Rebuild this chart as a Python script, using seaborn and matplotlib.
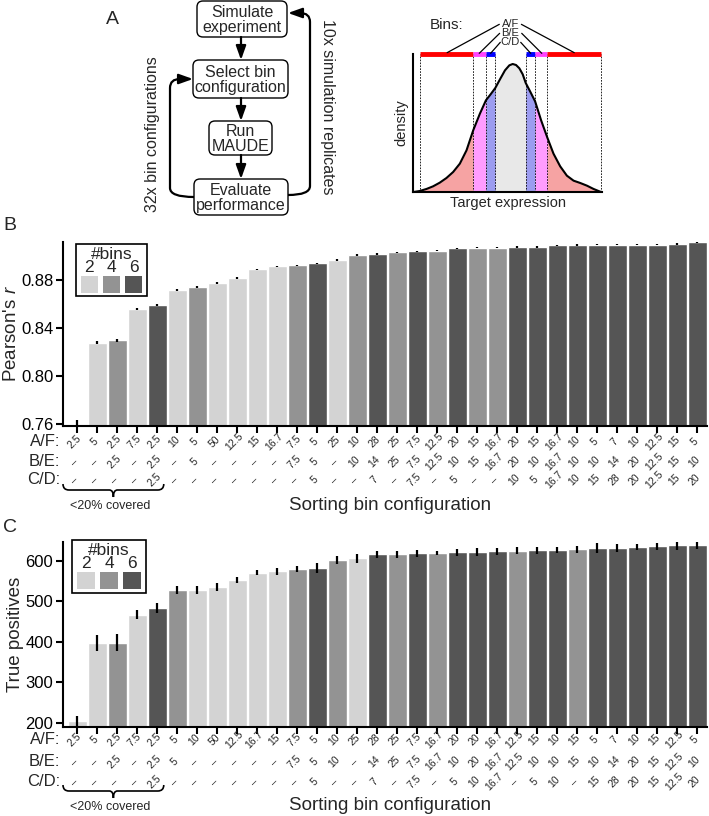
import numpy as np
import pandas as pd
import matplotlib.pyplot as plt
import matplotlib.transforms as mtransforms
from matplotlib.patches import FancyBboxPatch, Rectangle, PathPatch
from matplotlib.path import Path
import seaborn as sns

# Estilo general
sns.set_theme(style="ticks")
plt.rcParams["font.family"] = ["Liberation Sans", "DejaVu Sans"]
plt.rcParams.update({
    "mathtext.fontset": "custom",
    "mathtext.rm": "Liberation Sans",
    "mathtext.it": "Liberation Sans:italic",
    "axes.linewidth": 1.5,
    "axes.edgecolor": "black",
    "xtick.major.width": 1.5, "ytick.major.width": 1.5,
    "xtick.major.size": 5, "ytick.major.size": 5,
    "xtick.color": "black", "ytick.color": "black",
})

# Datos panel B (Pearson's r)
af_b = ["2.5", "5", "2.5", "7.5", "2.5", "10", "5", "50", "12.5", "15", "16.7", "7.5", "5", "25", "10", "28",
        "25", "7.5", "12.5", "20", "15", "16.7", "20", "15", "16.7", "10", "5", "7", "10", "12.5", "15", "5"]
be_b = ["-", "-", "2.5", "-", "2.5", "-", "5", "-", "-", "-", "-", "7.5", "5", "-", "10", "14",
        "25", "7.5", "12.5", "10", "15", "16.7", "20", "10", "16.7", "10", "10", "14", "20", "12.5", "15", "10"]
cd_b = ["-", "-", "-", "-", "2.5", "-", "-", "-", "-", "-", "-", "-", "5", "-", "-", "7",
        "-", "7.5", "-", "5", "-", "-", "10", "5", "16.7", "10", "15", "28", "20", "12.5", "15", "20"]
pearson_mean = [0.7603, 0.8279, 0.8300, 0.8559, 0.8592, 0.8717, 0.8744, 0.8781, 0.8822, 0.8891, 0.8916,
                0.8925, 0.8941, 0.8969, 0.9010, 0.9022, 0.9033, 0.9041, 0.9049, 0.9066, 0.9072, 0.9074,
                0.9077, 0.9080, 0.9091, 0.9094, 0.9097, 0.9099, 0.9099, 0.9099, 0.9102, 0.9116]
pearson_err = [0.0035, 0.0012, 0.0010, 0.0008, 0.0008, 0.0007, 0.0008, 0.0008, 0.0008, 0.0005, 0.0006,
               0.0006, 0.0006, 0.0007, 0.0007, 0.0009, 0.0007, 0.0007, 0.0007, 0.0007, 0.0006, 0.0006,
               0.0008, 0.0006, 0.0006, 0.0006, 0.0006, 0.0006, 0.0006, 0.0006, 0.0006, 0.0007]

# Datos panel C (True positives)
af_c = ["2.5", "5", "2.5", "7.5", "2.5", "5", "10", "50", "12.5", "16.7", "15", "7.5", "5", "10", "25", "28",
        "25", "7.5", "16.7", "20", "20", "16.7", "12.5", "15", "10", "15", "5", "7", "10", "15", "12.5", "5"]
be_c = ["-", "-", "2.5", "-", "2.5", "5", "-", "-", "-", "-", "-", "7.5", "5", "10", "-", "14",
        "25", "7.5", "16.7", "10", "20", "16.7", "12.5", "10", "10", "15", "10", "14", "20", "15", "12.5", "10"]
cd_c = ["-", "-", "-", "-", "2.5", "-", "-", "-", "-", "-", "-", "-", "5", "-", "-", "7",
        "-", "7.5", "-", "5", "10", "16.7", "-", "5", "10", "-", "15", "28", "20", "15", "12.5", "20"]
tp_mean = [204, 397, 398, 467, 484, 528, 528, 535, 552, 571, 574, 580, 582, 602, 606, 616,
           616, 618, 619, 621, 622, 623, 625, 626, 627, 628, 631, 632, 634, 636, 638, 640]
tp_err = [14, 20, 21, 11, 13, 11, 9, 9, 8, 7, 8, 8, 12, 9, 11, 9,
          9, 9, 6, 9, 10, 8, 8, 9, 8, 8, 13, 10, 8, 9, 11, 11]

# Esquema de densidad (panel A)
dens_x = [162, 180, 200, 220, 240, 260, 280, 300, 320, 340, 360, 378, 392, 406, 420, 435, 448,
          458, 468, 478, 488, 497, 511, 525, 543, 562, 580, 600, 620, 640, 660, 680, 700, 722]
dens_y = [0, 3, 9, 17, 28, 42, 60, 85, 125, 185, 235, 275, 293, 312, 338, 365, 380,
          384, 381, 371, 353, 327, 300, 272, 215, 162, 115, 77, 49, 34, 27, 19, 9, 0]
bin_edges = [180, 340, 378, 406, 497, 525, 562, 722]

palette = {"2": "#d3d3d3", "4": "#939393", "6": "#555555"}

fig = plt.figure(figsize=(7.09, 8.16), dpi=100)
ov = fig.add_axes([0, 0, 1, 1])
ov.set_xlim(0, 709)
ov.set_ylim(816, 0)
ov.set_axis_off()
ov.set_zorder(10)

axB = fig.add_axes([63 / 709, 1 - 426 / 816, 644 / 709, 184 / 816])
axC = fig.add_axes([63 / 709, 1 - 726.7 / 816, 644 / 709, 185 / 816])
axA = fig.add_axes([413 / 709, 1 - 192 / 816, 189 / 709, 138 / 816])


def bar_panel(ax, af, be, cd, mean, err, ylim, yticks, yfmt, ylabel, rows_y, brace_y, label_y):
    nbins = ["2" if b == "-" else ("4" if c == "-" else "6") for b, c in zip(be, cd)]
    df = pd.DataFrame({"pos": np.arange(len(mean)), "value": mean, "bins": nbins})
    sns.barplot(data=df, x="pos", y="value", hue="bins", hue_order=["2", "4", "6"],
                palette=palette, dodge=False, width=0.93, saturation=1, legend=False, ax=ax)
    ax.errorbar(df["pos"], df["value"], yerr=err, fmt="none", ecolor="black",
                elinewidth=1.6, capsize=0, zorder=3)
    ax.set_ylim(*ylim)
    ax.set_xlim(-0.72, 31.49)
    ax.set_yticks(yticks)
    ax.set_yticklabels([yfmt.format(t) for t in yticks], fontsize=12)
    ax.tick_params(axis="y", pad=2)
    ax.set_xticks(df["pos"])
    ax.set_xticklabels([])
    ax.set_xlabel("")
    ax.set_ylabel(ylabel, fontsize=13.5, labelpad=1)
    sns.despine(ax=ax)

    trans = mtransforms.blended_transform_factory(ax.transData, ov.transData)
    for name, vals, y in zip(["A/F:", "B/E:", "C/D:"], [af, be, cd], rows_y):
        ov.text(60, y, name, ha="right", va="center", fontsize=12)
        for i, v in enumerate(vals):
            ov.text(i - 0.15, y, v.replace("-", "\u2013"), transform=trans, rotation=45,
                    ha="center", va="center", fontsize=7.5)

    # llave "<20% covered"
    x0, x1, xm = -0.72, 4.32, 1.8
    yt, yl, yb = brace_y - 6, brace_y, brace_y + 7
    verts = [(x0, yt), (x0, yl), (x0 + 0.3, yl), (xm - 0.2, yl), (xm, yl), (xm, yb),
             (xm, yl), (xm + 0.2, yl), (x1 - 0.3, yl), (x1, yl), (x1, yt)]
    codes = [Path.MOVETO, Path.CURVE3, Path.CURVE3, Path.LINETO, Path.CURVE3, Path.CURVE3,
             Path.CURVE3, Path.CURVE3, Path.LINETO, Path.CURVE3, Path.CURVE3]
    ov.add_patch(PathPatch(Path(verts, codes), transform=trans, fill=False, lw=1.2, color="black"))
    ov.text(110, label_y, "<20% covered", ha="center", va="center", fontsize=9)
    ov.text(390, label_y - 1, "Sorting bin configuration", ha="center", va="center", fontsize=13.5)


bar_panel(axB, af_b, be_b, cd_b, pearson_mean, pearson_err, (0.7586, 0.912),
          [0.76, 0.80, 0.84, 0.88], "{:.2f}", "Pearson's $r$", [442, 462, 480], 490, 506)
bar_panel(axC, af_c, be_c, cd_c, tp_mean, tp_err, (191, 647),
          [200, 300, 400, 500, 600], "{:d}", "True positives", [740, 762, 782], 791, 807)


def bins_legend(x0, y0, x1, y1):
    ov.add_patch(Rectangle((x0, y0), x1 - x0, y1 - y0, fill=False, lw=1.2, ec="black"))
    xc = (x0 + x1) / 2
    ov.text(xc, y0 + 10.5, "#bins", ha="center", va="center", fontsize=12.5)
    w = 17.5
    gap = (x1 - x0 - 3 * w) / 4
    for k, key in enumerate(["2", "4", "6"]):
        px = x0 + gap + k * (w + gap)
        ov.text(px + w / 2, y0 + 24, key, ha="center", va="center", fontsize=12.5)
        ov.add_patch(Rectangle((px, y0 + 32), w, 17, color=palette[key], lw=0))


bins_legend(76, 244, 147, 296)
bins_legend(72, 540, 146, 593)

# Panel A: diagrama de flujo
boxes = [("Simulate\nexperiment", 197, 1, 90, 36), ("Select bin\nconfiguration", 193, 60, 95, 38),
         ("Run\nMAUDE", 209, 121, 63, 34), ("Evaluate\nperformance", 194, 179, 94, 36)]
for txt, bx, by, bw, bh in boxes:
    ov.add_patch(FancyBboxPatch((bx, by), bw, bh, boxstyle="round,pad=0,rounding_size=6",
                                fc="white", ec="black", lw=1.0))
    ov.text(bx + bw / 2, by + bh / 2 + 1, txt, ha="center", va="center", fontsize=11.5, linespacing=0.95)

arrow = dict(arrowstyle="-|>,head_length=0.7,head_width=0.25", color="black", lw=1.6,
             shrinkA=0, shrinkB=0)
for ya, yb in [(37, 60), (98, 121), (155, 179)]:
    ov.annotate("", xy=(241, yb), xytext=(241, ya), arrowprops=arrow)

left_loop = Path([(194, 197), (170, 197), (170, 188), (170, 88), (170, 79), (180, 79)],
                 [Path.MOVETO, Path.CURVE3, Path.CURVE3, Path.LINETO, Path.CURVE3, Path.CURVE3])
right_loop = Path([(288, 195), (310, 195), (310, 186), (310, 22), (310, 13), (300, 13)],
                  [Path.MOVETO, Path.CURVE3, Path.CURVE3, Path.LINETO, Path.CURVE3, Path.CURVE3])
ov.add_patch(PathPatch(left_loop, fill=False, lw=1.6, color="black"))
ov.add_patch(PathPatch(right_loop, fill=False, lw=1.6, color="black"))
ov.annotate("", xy=(193, 79), xytext=(179, 79), arrowprops=arrow)
ov.annotate("", xy=(288, 13), xytext=(301, 13), arrowprops=arrow)
ov.text(153, 134, "32x bin configurations", rotation=90, ha="center", va="center", fontsize=11.5)
ov.text(328, 107, "10x simulation replicates", rotation=270, ha="center", va="center", fontsize=11.5)

ov.text(112, 20, "A", ha="center", va="center", fontsize=14)
ov.text(10, 226, "B", ha="center", va="center", fontsize=14)
ov.text(10, 527, "C", ha="center", va="center", fontsize=14)

# Panel A: esquema de bins sobre la densidad
dx = np.array(dens_x)
dy = np.array(dens_y)
e = bin_edges
fills = [(dx <= e[1], "#f6a3a3"), ((dx >= e[1]) & (dx <= e[2]), "#ff9cff"),
         ((dx >= e[2]) & (dx <= e[3]), "#9c9cf0"), ((dx >= e[3]) & (dx <= e[4]), "#e8e8e8"),
         ((dx >= e[4]) & (dx <= e[5]), "#9c9cf0"), ((dx >= e[5]) & (dx <= e[6]), "#ff9cff"),
         (dx >= e[6], "#f6a3a3")]
for mask, col in fills:
    axA.fill_between(dx, 0, dy, where=mask, color=col, lw=0)
sns.lineplot(x=dx, y=dy, color="black", lw=1.5, ax=axA, sort=False)
axA.vlines(bin_edges, 0, 414, colors="black", linestyles=(0, (2, 1.5)), lw=0.6)
top_segments = [(e[0], e[1], "#ff0000"), (e[1], e[2], "#ff44ff"), (e[2], e[3], "#0000ff"),
                (e[4], e[5], "#0000ff"), (e[5], e[6], "#ff44ff"), (e[6], e[7], "#ff0000")]
for xa, xb, col in top_segments:
    axA.plot([xa, xb], [414, 414], color=col, lw=3.5, solid_capstyle="butt", clip_on=False)
axA.set_xlim(160, 725)
axA.set_ylim(0, 414)
axA.set_xticks([])
axA.set_yticks([])
sns.despine(ax=axA)
axA.set_xlabel("Target expression", fontsize=10.5, labelpad=3)
axA.set_ylabel("density", fontsize=10.5, labelpad=3)

axA.text(260, 502, "Bins:", ha="center", va="center", fontsize=11)
for name, ty, (l0, l1), (r0, r1) in [("A/F", 505, ((418, 503), (262, 418)), ((484, 503), (642, 418))),
                                     ("B/E", 477, ((419, 476), (358, 416)), ((485, 476), (545, 416))),
                                     ("C/D", 449, ((421, 449), (392, 416)), ((482, 449), (512, 416)))]:
    axA.text(451, ty, name, ha="center", va="center", fontsize=8)
    axA.plot([l0[0], l1[0]], [l0[1], l1[1]], color="black", lw=0.9, clip_on=False)
    axA.plot([r0[0], r1[0]], [r0[1], r1[1]], color="black", lw=0.9, clip_on=False)

fig.savefig("out.png", dpi=100)
